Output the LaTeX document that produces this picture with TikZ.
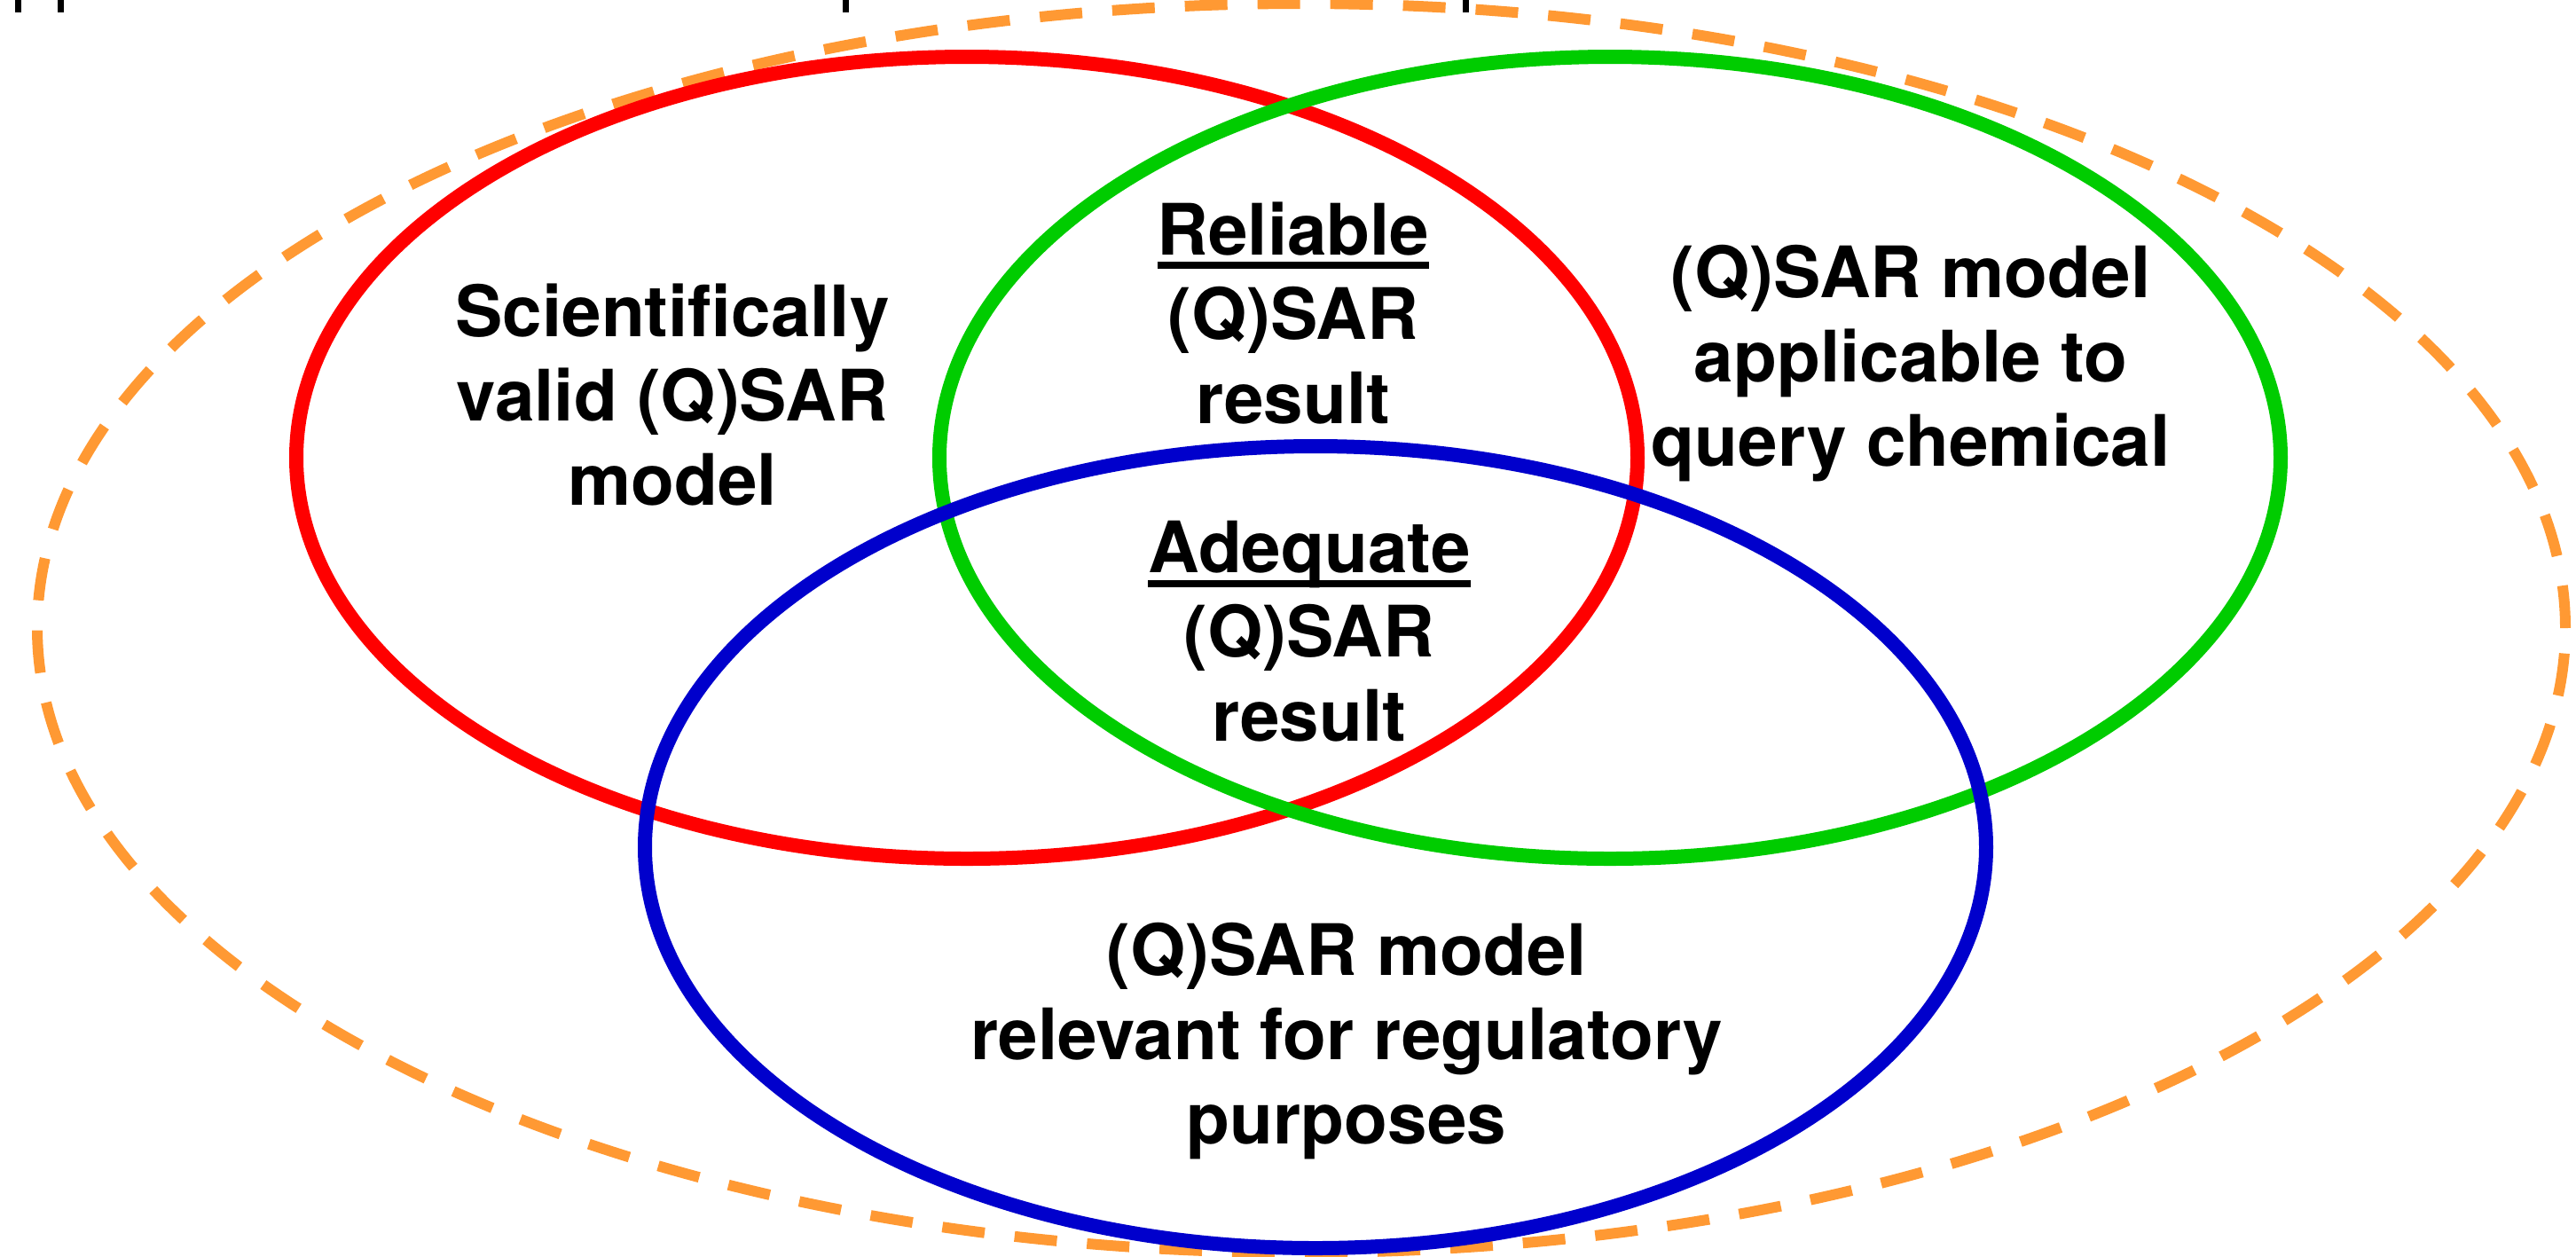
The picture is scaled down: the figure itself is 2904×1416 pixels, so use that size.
\documentclass[tikz,border=0pt]{standalone}
\usepackage{fontspec}
\setmainfont{TeX Gyre Heros}

\definecolor{vennred}{RGB}{255,0,0}
\definecolor{venngreen}{RGB}{0,204,0}
\definecolor{vennblue}{RGB}{0,0,204}
\definecolor{vennorange}{RGB}{255,153,51}

% heavy underline for the region headings
\newsavebox{\ulsave}
\newcommand{\ulword}[1]{\sbox\ulsave{#1}\rlap{\rule[-4pt]{\wd\ulsave}{2pt}}\usebox\ulsave}

\begin{document}
\begin{tikzpicture}[x=0.25pt, y=-0.25pt,
  ring/.style={line width=4pt},
  outerring/.style={line width=3pt, draw=vennorange, dash pattern=on 12pt off 8.5pt},
  tick/.style={line width=1.75pt, draw=black},
  vtext/.style={font=\fontsize{20}{23.75}\selectfont\bfseries, align=center, inner sep=0pt}]

  \fill[white] (0,0) rectangle (2904,1416);
  \useasboundingbox (0,0) rectangle (2904,1416);

  % small marks along the top edge
  \foreach \tx in {20,68,953,1652}
    \draw[tick] (\tx,0) -- (\tx,14);

  % enclosing dashed set
  \draw[outerring] (1467,708) ellipse [x radius=356.25pt, y radius=176pt];

  % the three criteria
  \draw[ring, draw=vennred]   (1090,516) ellipse [x radius=189pt, y radius=113pt];
  \draw[ring, draw=venngreen] (1815,516) ellipse [x radius=189pt, y radius=113pt];
  \draw[ring, draw=vennblue]  (1483,955) ellipse [x radius=189pt, y radius=113pt];

  % region labels
  \node[vtext] (valid) at (758,445) {Scientifically\\valid (Q)SAR\\model};
  \node[vtext] (applic) at (2154,410) {(Q)SAR model\\applicable to\\query chemical};
  \node[vtext] (relev) at (1518,1174) {(Q)SAR model\\relevant for regulatory\\purposes};
  \node[vtext] (reliable) at (1458,353) {\ulword{Reliable}\\(Q)SAR\\result};
  \node[vtext] (adequate) at (1476,712) {\ulword{Adequate}\\(Q)SAR\\result};
\end{tikzpicture}
\end{document}
